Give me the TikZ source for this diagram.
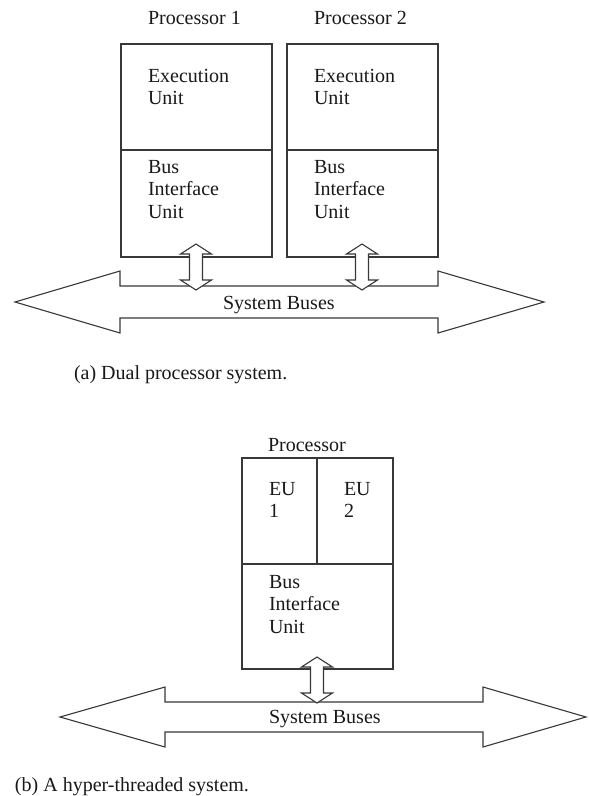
\documentclass[tikz,border=0pt]{standalone}
\usepackage{fontspec}
\setmainfont{Liberation Serif}
\begin{document}
\begin{tikzpicture}[x=1pt,y=-1pt,
  linecol/.style={draw=black!78, line width=1.1pt, line join=miter},
  unitbox/.style={linecol, rectangle, inner sep=0pt, outer sep=0pt, anchor=north west},
  txt/.style={inner sep=0pt, outer sep=0pt, text=black!90, font=\fontsize{20}{22.5}\selectfont, align=left},
  vbus/.pic={
    \draw[linecol, fill=white] (0,-23) -- (15.5,-13) -- (6.5,-13) -- (6.5,13) -- (15.5,13) -- (0,23)
      -- (-15.5,13) -- (-6.5,13) -- (-6.5,-13) -- (-15.5,-13) -- cycle;
  }]
\useasboundingbox[fill=white] (0,0) rectangle (589,796);

% ---------- (a) Dual processor system ----------
\node[txt, anchor=base west] (p1lab) at (148,24) {Processor 1};
\node[txt, anchor=base west] (p2lab) at (314,24) {Processor 2};

\node[unitbox, minimum width=151pt, minimum height=106pt] (eu1) at (121,44) {};
\node[unitbox, minimum width=151pt, minimum height=107pt] (biu1) at (121,150) {};
\node[unitbox, minimum width=151pt, minimum height=106pt] (eu2) at (287,44) {};
\node[unitbox, minimum width=151pt, minimum height=107pt] (biu2) at (287,150) {};

\node[txt, anchor=north west] (eu1t) at (148,69) {Execution\\Unit};
\node[txt, anchor=north west] (eu2t) at (314,69) {Execution\\Unit};
\node[txt, anchor=north west] (biu1t) at (148,160) {Bus\\Interface\\Unit};
\node[txt, anchor=north west] (biu2t) at (314,160) {Bus\\Interface\\Unit};

% system bus (a)
\draw[linecol] (15,302) -- (120,271) -- (120,286) -- (438,286) -- (438,271) -- (544,302)
  -- (438,333) -- (438,318) -- (120,318) -- (120,333) -- cycle;
\node[txt, anchor=base west] (busa) at (223,309) {System Buses};

\pic (arr1) at (196,267) {vbus};
\pic (arr2) at (362,267) {vbus};

\node[txt, anchor=base west] (capa) at (74,379) {(a) Dual processor system.};

% ---------- (b) Hyper-threaded system ----------
\node[txt, anchor=base west] (plab) at (268,451) {Processor};

\node[unitbox, minimum width=75pt, minimum height=106pt] (eua) at (242,458) {};
\node[unitbox, minimum width=76pt, minimum height=106pt] (eub) at (317,458) {};
\node[unitbox, minimum width=151pt, minimum height=105pt] (biub) at (242,564) {};

\node[txt, anchor=north west] (euat) at (269,482) {EU\\1};
\node[txt, anchor=north west] (eubt) at (344,482) {EU\\2};
\node[txt, anchor=north west] (biubt) at (269,575) {Bus\\Interface\\Unit};

% system bus (b)
\draw[linecol] (60,717) -- (165,687) -- (165,702) -- (483,702) -- (483,687) -- (586,717)
  -- (483,747) -- (483,732) -- (165,732) -- (165,747) -- cycle;
\node[txt, anchor=base west] (busb) at (269,723) {System Buses};

\pic (arr3) at (317,680) {vbus};

\node[txt, anchor=base west] (capb) at (15,791) {(b) A hyper-threaded system.};
\end{tikzpicture}
\end{document}
